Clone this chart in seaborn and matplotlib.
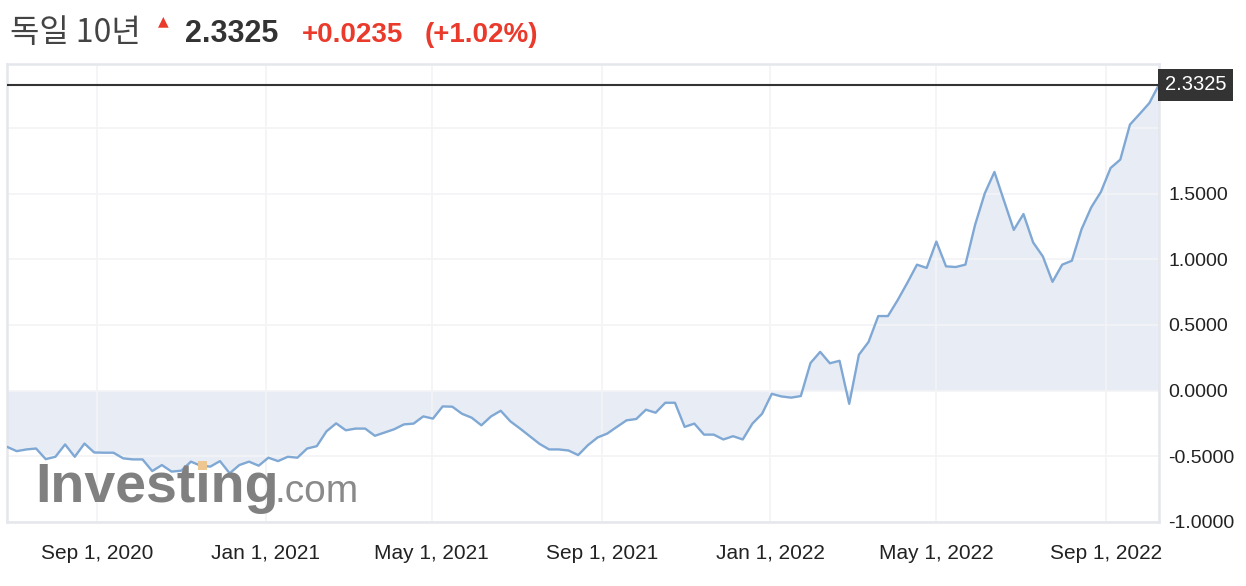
import matplotlib
matplotlib.use('Agg')
import matplotlib.pyplot as plt
from matplotlib.patches import Rectangle
import numpy as np
import pandas as pd
import seaborn as sns

# ---------------- data ----------------
title_name = '독일 10년'
start_date = '2020-06-28'
yields = [
    -0.429, -0.462, -0.449, -0.442, -0.523, -0.505, -0.411, -0.505, -0.404, -0.472,
    -0.474, -0.474, -0.517, -0.525, -0.525, -0.614, -0.568, -0.618, -0.611, -0.542,
    -0.573, -0.580, -0.538, -0.631, -0.568, -0.542, -0.573, -0.512, -0.538, -0.505,
    -0.512, -0.442, -0.424, -0.311, -0.250, -0.303, -0.290, -0.290, -0.345, -0.320,
    -0.295, -0.258, -0.252, -0.197, -0.214, -0.121, -0.123, -0.177, -0.207, -0.265,
    -0.197, -0.154, -0.235, -0.290, -0.348, -0.406, -0.449, -0.449, -0.457, -0.492,
    -0.417, -0.358, -0.328, -0.277, -0.227, -0.217, -0.146, -0.169, -0.093, -0.093,
    -0.277, -0.252, -0.336, -0.336, -0.373, -0.348, -0.373, -0.252, -0.177, -0.025,
    -0.045, -0.054, -0.042, 0.210, 0.295, 0.208, 0.227, -0.101, 0.273, 0.371,
    0.568, 0.568, 0.689, 0.821, 0.960, 0.935, 1.136, 0.947, 0.942, 0.960,
    1.263, 1.503, 1.667, 1.445, 1.225, 1.346, 1.129, 1.023, 0.829, 0.960,
    0.990, 1.230, 1.397, 1.515, 1.697, 1.761, 2.028, 2.109, 2.192, 2.3325,
]
last_value = 2.3325
last_label = '2.3325'
change_label = '+0.0235'
change_pct_label = '(+1.02%)'
tick_dates = ['2020-09-01', '2021-01-01', '2021-05-01', '2021-09-01',
              '2022-01-01', '2022-05-01', '2022-09-01']
tick_labels = ['Sep 1, 2020', 'Jan 1, 2021', 'May 1, 2021', 'Sep 1, 2021',
               'Jan 1, 2022', 'May 1, 2022', 'Sep 1, 2022']
y_ticks = [-1.0, -0.5, 0.0, 0.5, 1.0, 1.5, 2.0]
y_tick_labels = ['-1.0000', '-0.5000', '0.0000', '0.5000', '1.0000', '1.5000', '']

# ---------------- style ----------------
sns.set_theme(style='white')
plt.rcParams['font.family'] = ['Liberation Sans', 'DejaVu Sans']

W, H = 1246, 586
fig = plt.figure(figsize=(W / 100, H / 100), dpi=100)
fig.patch.set_facecolor('white')

left_px, right_px, top_px, bot_px = 7, 1159, 64, 521.7
ax = fig.add_axes([left_px / W, 1 - bot_px / H, (right_px - left_px) / W, (bot_px - top_px) / H])

dates = pd.date_range(start_date, periods=len(yields), freq='7D')
df = pd.DataFrame({'date': dates, 'value': yields})

ax.fill_between(df['date'], df['value'], 0, color='#e8edf5', lw=0, zorder=1)
sns.lineplot(data=df, x='date', y='value', ax=ax, color='#80a8d4', lw=1.7, zorder=3)
ax.axhline(last_value, color='#333333', lw=1.5, zorder=4)

ax.set_xlim(dates[0], dates[-1])
ax.set_ylim(-1.0, 2.49)
ax.set_xlabel('')
ax.set_ylabel('')

ax.yaxis.tick_right()
ax.set_yticks(y_ticks)
ax.set_yticklabels(y_tick_labels)
ax.set_xticks(pd.to_datetime(tick_dates))
ax.set_xticklabels(tick_labels)
ax.tick_params(axis='y', length=0, pad=6.5, labelsize=14, labelcolor='#222222')
ax.tick_params(axis='x', length=0, pad=16, labelsize=15, labelcolor='#222222')

ax.grid(True, color='#f3f4f6', lw=1.2)
ax.set_axisbelow('line')
for s in ax.spines.values():
    s.set_visible(True)
    s.set_color('#e4e7ec')
    s.set_linewidth(1.8)

ax.text(1.0 + 6 / 1152, last_value, last_label, transform=ax.get_yaxis_transform(),
        ha='left', va='center', color='white', fontsize=14.5, zorder=6, clip_on=False,
        bbox=dict(boxstyle='square,pad=0.33', fc='#333333', ec='none'))

# ---------------- header ----------------
def fx(px):
    return px / W

def fy(py):
    return 1 - py / H

red = '#e93a2b'
fig.text(fx(10), fy(42), title_name, family=['Noto Sans CJK KR', 'DejaVu Sans'],
         fontsize=23, color='#444444', va='baseline')
fig.text(fx(158), fy(25), '▲', family=['DejaVu Sans'], fontsize=10, color=red, va='baseline')
fig.text(fx(185), fy(42), last_label, fontsize=22, weight='bold', color='#333333', va='baseline')
fig.text(fx(302), fy(42), change_label, fontsize=20, weight='bold', color=red, va='baseline')
fig.text(fx(425), fy(42), change_pct_label, fontsize=20, weight='bold', color=red, va='baseline')

# ---------------- watermark ----------------
fig.text(fx(35), fy(502), 'Investing', fontsize=40, weight='bold', color='#808080',
         va='baseline', zorder=10)
fig.text(fx(275), fy(502), '.com', fontsize=28, color='#8a8a8a', va='baseline', zorder=10)
fig.add_artist(Rectangle((fx(198), fy(470)), 9 / W, 9 / H, transform=fig.transFigure,
                         facecolor='#eec690', edgecolor='none', zorder=11))

fig.savefig('out.png', dpi=100, facecolor='white')
